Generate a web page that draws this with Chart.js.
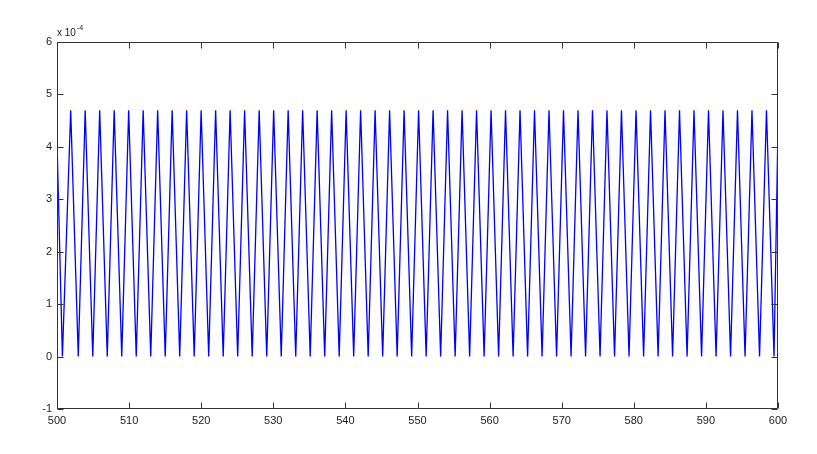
<!DOCTYPE html>
<html>
<head>
<meta charset="utf-8">
<script src="https://cdn.jsdelivr.net/npm/chart.js@4/dist/chart.umd.min.js"></script>
<style>
html,body{margin:0;padding:0;background:#fff;}
#wrap{width:817px;height:454px;position:relative;}
</style>
</head>
<body>
<div id="wrap"><canvas id="c" width="817" height="454"></canvas></div>
<script>
// Tick labels
const xTicks = [500, 510, 520, 530, 540, 550, 560, 570, 580, 590, 600];
const yTicks = [-1e-4, 0, 1e-4, 2e-4, 3e-4, 4e-4, 5e-4, 6e-4];

// Start / end of the trace
const startPoint = [500, 4.1e-4];
const firstTrough = [500.75, 0];
const endPoint = [600, 4.4e-4];

// Peaks of the waveform (x, value)
const peakX = [501.90, 503.91, 505.92, 507.93, 509.94, 511.95, 513.96, 515.97, 517.98, 519.99,
  522.00, 524.01, 526.02, 528.04, 530.05, 532.06, 534.07, 536.08, 538.09, 540.10,
  542.11, 544.12, 546.13, 548.14, 550.15, 552.16, 554.17, 556.18, 558.19, 560.20,
  562.21, 564.22, 566.23, 568.24, 570.25, 572.26, 574.27, 576.28, 578.29, 580.31,
  582.32, 584.33, 586.34, 588.35, 590.36, 592.37, 594.38, 596.39, 598.40];
const peakY = [4.7e-4, 4.7e-4, 4.7e-4, 4.7e-4, 4.7e-4, 4.7e-4, 4.7e-4, 4.7e-4, 4.7e-4, 4.7e-4,
  4.7e-4, 4.7e-4, 4.7e-4, 4.7e-4, 4.7e-4, 4.7e-4, 4.7e-4, 4.7e-4, 4.7e-4, 4.7e-4,
  4.7e-4, 4.7e-4, 4.7e-4, 4.7e-4, 4.7e-4, 4.7e-4, 4.7e-4, 4.7e-4, 4.7e-4, 4.7e-4,
  4.7e-4, 4.7e-4, 4.7e-4, 4.7e-4, 4.7e-4, 4.7e-4, 4.7e-4, 4.7e-4, 4.7e-4, 4.7e-4,
  4.7e-4, 4.7e-4, 4.7e-4, 4.7e-4, 4.7e-4, 4.7e-4, 4.7e-4, 4.7e-4, 4.7e-4];

// Troughs of the waveform (x, value)
const troughX = [502.95, 504.96, 506.97, 508.98, 510.99, 513.00, 515.01, 517.02, 519.03, 521.04,
  523.05, 525.06, 527.07, 529.09, 531.10, 533.11, 535.12, 537.13, 539.14, 541.15,
  543.16, 545.17, 547.18, 549.19, 551.20, 553.21, 555.22, 557.23, 559.24, 561.25,
  563.26, 565.27, 567.28, 569.29, 571.30, 573.31, 575.32, 577.33, 579.34, 581.36,
  583.37, 585.38, 587.39, 589.40, 591.41, 593.42, 595.43, 597.44, 599.45];
const troughY = [0, 0, 0, 0, 0, 0, 0, 0, 0, 0,
  0, 0, 0, 0, 0, 0, 0, 0, 0, 0,
  0, 0, 0, 0, 0, 0, 0, 0, 0, 0,
  0, 0, 0, 0, 0, 0, 0, 0, 0, 0,
  0, 0, 0, 0, 0, 0, 0, 0, 0];

// Build the ordered vertex list
const pts = [{x: startPoint[0], y: startPoint[1]}, {x: firstTrough[0], y: firstTrough[1]}];
for (let i = 0; i < peakX.length; i++) {
  pts.push({x: peakX[i], y: peakY[i]});
  pts.push({x: troughX[i], y: troughY[i]});
}
pts.push({x: endPoint[0], y: endPoint[1]});

const AXIS = '#333333';
const FONT = 'Liberation Sans, Arial, sans-serif';

const boxPlugin = {
  id: 'matlabBox',
  afterDraw(chart) {
    const ctx = chart.ctx;
    const a = chart.chartArea;
    const xs = chart.scales.x, ys = chart.scales.y;
    const L = Math.round(a.left) + 0.5, R = Math.round(a.right) - 0.5;
    const T = Math.round(a.top) + 0.5, B = Math.round(a.bottom) - 0.5;
    ctx.save();
    ctx.strokeStyle = AXIS;
    ctx.lineWidth = 1;
    ctx.beginPath();
    ctx.rect(L, T, R - L, B - T);
    ctx.stroke();
    const tl = 6;
    ctx.beginPath();
    xTicks.forEach(v => {
      const px = Math.round(xs.getPixelForValue(v)) + 0.5;
      ctx.moveTo(px, B); ctx.lineTo(px, B - tl);
      ctx.moveTo(px, T); ctx.lineTo(px, T + tl);
    });
    yTicks.forEach(v => {
      const py = Math.round(ys.getPixelForValue(v)) + 0.5;
      ctx.moveTo(L, py); ctx.lineTo(L + tl, py);
      ctx.moveTo(R, py); ctx.lineTo(R - tl, py);
    });
    ctx.stroke();
    // exponent label
    ctx.fillStyle = '#222';
    ctx.textBaseline = 'alphabetic';
    ctx.textAlign = 'left';
    ctx.font = '10px ' + FONT;
    ctx.fillText('x 10', 57, 36);
    const w = ctx.measureText('x 10').width;
    ctx.font = '7px ' + FONT;
    ctx.fillText('-4', 57 + w + 1, 30);
    ctx.restore();
  }
};

new Chart(document.getElementById('c'), {
  type: 'line',
  data: {
    datasets: [{
      data: pts,
      borderColor: '#0000ff',
      borderWidth: 1.3,
      pointRadius: 0,
      tension: 0,
      fill: false
    }]
  },
  options: {
    responsive: false,
    animation: false,
    events: [],
    layout: {padding: {left: 0, top: 42, right: 39, bottom: 0}},
    plugins: {legend: {display: false}, tooltip: {enabled: false}},
    scales: {
      x: {
        type: 'linear', min: 500, max: 600,
        afterBuildTicks(s) { s.ticks = xTicks.map(v => ({value: v})); },
        afterFit(s) { s.height = 45; },
        grid: {display: false, drawTicks: false},
        border: {display: false},
        ticks: {
          color: '#222', padding: 5, maxRotation: 0, autoSkip: false,
          font: {family: FONT, size: 11},
          callback: v => String(v)
        }
      },
      y: {
        type: 'linear', min: -1e-4, max: 6e-4,
        afterBuildTicks(s) { s.ticks = yTicks.map(v => ({value: v})); },
        afterFit(s) { s.width = 57; },
        grid: {display: false, drawTicks: false},
        border: {display: false},
        ticks: {
          color: '#222', padding: 5, autoSkip: false,
          font: {family: FONT, size: 11},
          callback: v => String(Math.round(v * 1e4))
        }
      }
    }
  },
  plugins: [boxPlugin]
});
</script>
</body>
</html>
